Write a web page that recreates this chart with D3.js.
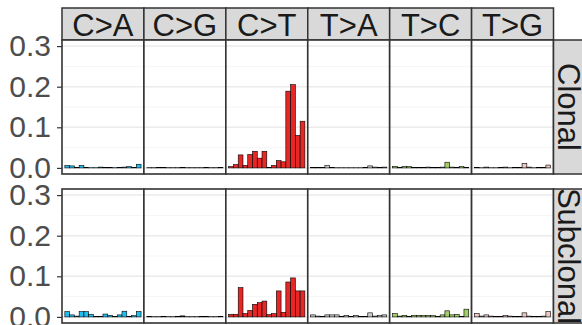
<!DOCTYPE html>
<html>
<head>
<meta charset="utf-8">
<script src="https://cdn.jsdelivr.net/npm/d3@7/dist/d3.min.js"></script>
<style>
  html, body { margin: 0; padding: 0; background: #fff; }
  svg { display: block; }
  text { font-family: "Liberation Sans", Arial, Helvetica, sans-serif; }
</style>
</head>
<body>
<svg id="chart" width="582" height="325"></svg>
<script>
// Substitution classes (facet columns) and clonality groups (facet rows)
const mutationTypes = ["C>A", "C>G", "C>T", "T>A", "T>C", "T>G"];
const groups = ["Clonal", "Subclonal"];
// 16 trinucleotide flanks within each substitution class
const flanks = ["A_A","A_C","A_G","A_T","C_A","C_C","C_G","C_T",
                "G_A","G_C","G_G","G_T","T_A","T_C","T_G","T_T"];
const typeColors = ["#1EBFF0", "#050708", "#E62725", "#CBCACB", "#A1CF64", "#EDC8C5"];
const yTicks = [0, 0.1, 0.2, 0.3];
const yMinor = [0.05, 0.15, 0.25];

// Relative contribution per context, Clonal mutations
const clonalCA = [0.006,0.005,0.001,0.006,0.001,0.0005,0.0005,0.002,0.001,0.001,0.0005,0.001,0.002,0.003,0.001,0.009];
const clonalCG = [0.0005,0.0005,0.001,0.0015,0.0005,0.0005,0.0005,0.0015,0.0005,0.0005,0.0005,0.0005,0.0015,0.0005,0.0005,0.001];
const clonalCT = [0.003,0.008,0.032,0.006,0.033,0.041,0.024,0.041,0.001,0.006,0.018,0.015,0.189,0.205,0.080,0.115];
const clonalTA = [0.001,0.001,0.001,0.006,0.001,0.0005,0.0005,0.0005,0.0005,0.0005,0.0005,0.001,0.005,0.002,0.001,0.002];
const clonalTC = [0.004,0.001,0.003,0.003,0.001,0.001,0.001,0.002,0.001,0.001,0.002,0.014,0.002,0.001,0.003,0.001];
const clonalTG = [0.001,0.0005,0.002,0.0005,0.0005,0.001,0.002,0.0005,0.001,0.001,0.011,0.002,0.0005,0.001,0.001,0.007];

// Relative contribution per context, Subclonal mutations
const subclonalCA = [0.013,0.005,0.002,0.013,0.013,0.006,0.001,0.001,0.007,0.004,0.001,0.005,0.014,0.001,0.003,0.013];
const subclonalCG = [0.001,0.0005,0.0005,0.0015,0.0005,0.0005,0.001,0.0025,0.0005,0.0005,0.0005,0.001,0.0015,0.0005,0.0005,0.001];
const subclonalCT = [0.0065,0.0065,0.072,0.008,0.016,0.031,0.035,0.039,0.006,0.008,0.064,0.011,0.086,0.096,0.064,0.064];
const subclonalTA = [0.005,0.002,0.001,0.005,0.005,0.005,0.001,0.004,0.001,0.004,0.001,0.001,0.010,0.002,0.004,0.005];
const subclonalTC = [0.008,0.002,0.004,0.001,0.004,0.004,0.003,0.004,0.003,0.001,0.005,0.015,0.005,0.006,0.001,0.019];
const subclonalTG = [0.008,0.002,0.005,0.002,0.001,0.001,0.003,0.002,0.001,0.001,0.010,0.002,0.001,0.001,0.002,0.013];

const seriesByGroup = {
  "Clonal":    [clonalCA, clonalCG, clonalCT, clonalTA, clonalTC, clonalTG],
  "Subclonal": [subclonalCA, subclonalCG, subclonalCT, subclonalTA, subclonalTC, subclonalTG]
};

// Layout
const plotLeft = 62, plotRight = 553.5;
const stripTop = 8, stripBottom = 40;
const rowTops = [40, 189];
const panelH = 134;
const rightStripW = 30;
const tickFont = 30, stripFont = 31;

const svg = d3.select("#chart");

const col = d3.scaleBand().domain(mutationTypes).range([plotLeft, plotRight]).paddingInner(0);
const x = d3.scaleBand().domain(flanks).range([0, col.bandwidth()])
  .paddingInner(0).paddingOuter(0.6);

// Column strips
mutationTypes.forEach((t, i) => {
  const g = svg.append("g").attr("transform", `translate(${col(t)},${stripTop})`);
  g.append("rect").attr("width", col.bandwidth()).attr("height", stripBottom - stripTop)
    .attr("fill", "#D9D9D9").attr("stroke", "#333333").attr("stroke-width", 1.5);
  g.append("text").attr("x", col.bandwidth() / 2).attr("y", 27.5)
    .attr("text-anchor", "middle").attr("font-size", stripFont).attr("fill", "#1A1A1A")
    .text(t);
});

groups.forEach((grp, r) => {
  const top = rowTops[r];
  const y = d3.scaleLinear().domain([-0.015, 0.315]).range([top + panelH, top]);

  // y axis
  const axis = svg.append("g").attr("transform", `translate(${plotLeft},0)`)
    .call(d3.axisLeft(y).tickValues(yTicks).tickFormat(d3.format(".1f")).tickSize(5).tickPadding(6));
  axis.select(".domain").remove();
  axis.selectAll(".tick line").attr("stroke", "#333333").attr("stroke-width", 1.2);
  axis.selectAll(".tick text").attr("font-size", tickFont).attr("fill", "#4D4D4D")
    .attr("font-family", "'Liberation Sans', Arial, sans-serif");

  mutationTypes.forEach((t, i) => {
    const g = svg.append("g").attr("transform", `translate(${col(t)},0)`);
    const w = col.bandwidth();
    g.append("rect").attr("x", 0).attr("y", top).attr("width", w).attr("height", panelH)
      .attr("fill", "#FFFFFF");
    g.selectAll(".minor").data(yMinor).join("line")
      .attr("x1", 0).attr("x2", w).attr("y1", d => y(d)).attr("y2", d => y(d))
      .attr("stroke", "#F2F2F2").attr("stroke-width", 0.8);
    g.selectAll(".major").data(yTicks).join("line")
      .attr("x1", 0).attr("x2", w).attr("y1", d => y(d)).attr("y2", d => y(d))
      .attr("stroke", "#EBEBEB").attr("stroke-width", 1.5);

    const vals = seriesByGroup[grp][i];
    g.selectAll(".bar").data(flanks.map((f, k) => ({ f, v: vals[k] }))).join("rect")
      .attr("x", d => x(d.f)).attr("width", x.bandwidth())
      .attr("y", d => y(d.v)).attr("height", d => y(0) - y(d.v))
      .attr("fill", typeColors[i]).attr("stroke", "#000000").attr("stroke-width", 0.6);

    g.append("rect").attr("x", 0).attr("y", top).attr("width", w).attr("height", panelH)
      .attr("fill", "none").attr("stroke", "#333333").attr("stroke-width", 1.6);
  });

  // Row strip
  const rs = svg.append("g").attr("transform", `translate(${plotRight},${top})`);
  rs.append("rect").attr("width", rightStripW).attr("height", panelH)
    .attr("fill", "#D9D9D9").attr("stroke", "#333333").attr("stroke-width", 1.5);
  rs.append("text")
    .attr("transform", `translate(${rightStripW / 2 - 10.5},${panelH / 2}) rotate(90)`)
    .attr("text-anchor", "middle").attr("font-size", stripFont).attr("fill", "#1A1A1A")
    .text(grp);
});
</script>
</body>
</html>
